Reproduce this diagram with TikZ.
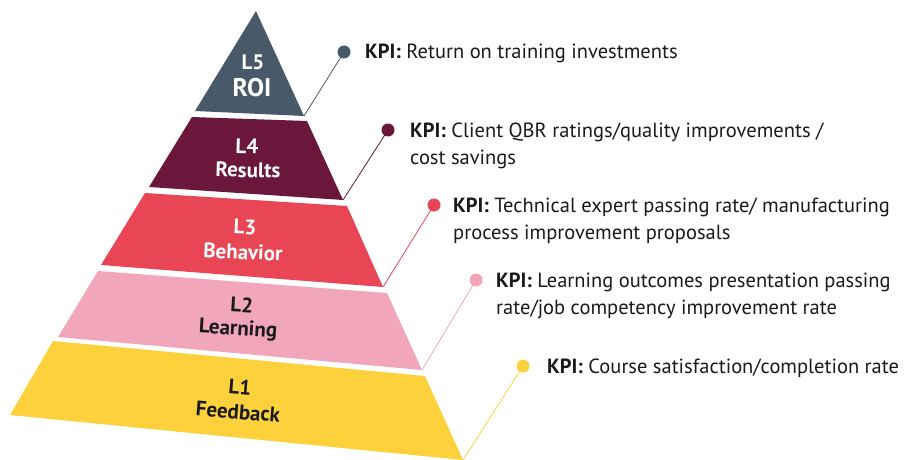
\documentclass[tikz,border=0pt]{standalone}
\usepackage{fontspec}
\setmainfont{PT Sans}
\definecolor{cL5}{HTML}{485969}
\definecolor{cL4}{HTML}{6A173B}
\definecolor{cL3}{HTML}{E84654}
\definecolor{cL2}{HTML}{F2A6BB}
\definecolor{cL1}{HTML}{FDD13B}
\definecolor{ink}{HTML}{1A1A1A}
\begin{document}
\begin{tikzpicture}[x=1pt,y=-1pt,
  lvl/.style={font=\fontsize{21}{23}\selectfont\bfseries, inner sep=0pt},
  big/.style={font=\fontsize{25.5}{27}\selectfont\bfseries, inner sep=0pt},
  dot/.style={circle, fill=#1, draw=none, minimum size=13pt, inner sep=0pt},
  conn/.style={draw=#1, line width=0.8pt},
  kpi/.style={anchor=base west, inner sep=0pt, text=ink, font=\fontsize{20.5}{27}\selectfont}
]
\useasboundingbox (0,0) rectangle (904,460);
% corners
\coordinate (c5) at (304,116);
\coordinate (c4) at (343,200);
\coordinate (c3) at (383,287);
\coordinate (c2) at (422,370);
\coordinate (c1) at (463,460);
% bands
\fill[cL5] (256,11) -- (c5) -- (195,111) -- cycle;
\fill[cL4] (192,117) -- (307,121) -- (c4) -- (149,187) -- cycle;
\fill[cL3] (145,193) -- (347,206) -- (c3) -- (101,265) -- cycle;
\fill[cL2] (98,271) -- (387,293) -- (c2) -- (58,337) -- cycle;
\fill[cL1] (53,341) -- (425,376) -- (c1) -- (10,415) -- cycle;
% labels
\node[lvl, text=white] (t5a) at (253,62) {L5};
\node[big, text=white] (t5b) at (252,88) {ROI};
\node[lvl, text=white, rotate=-1.5] (t4a) at (247,146) {L4};
\node[lvl, text=white, rotate=-1.5] (t4b) at (248,170) {Results};
\node[lvl, text=white, rotate=-2.5] (t3a) at (245,227) {L3};
\node[lvl, text=white, rotate=-2.5] (t3b) at (243,252) {Behavior};
\node[lvl, text=ink, rotate=-3.5] (t2a) at (242,305) {L2};
\node[lvl, text=ink, rotate=-3.5] (t2b) at (238,330) {Learning};
\node[lvl, text=ink, rotate=-4.5] (t1a) at (240,387) {L1};
\node[lvl, text=ink, rotate=-4.5] (t1b) at (238,412) {Feedback};
% dots
\node[dot=cL5] (d5) at (344,52) {};
\node[dot=cL4] (d4) at (388,130) {};
\node[dot=cL3] (d3) at (434,205) {};
\node[dot=cL2] (d2) at (476,280) {};
\node[dot=cL1] (d1) at (523,366) {};
% connectors
\draw[conn=cL5] (c5) -- (d5.center);
\draw[conn=cL4] (c4) -- (d4.center);
\draw[conn=cL3] (c3) -- (d3.center);
\draw[conn=cL2] (c2) -- (d2.center);
\draw[conn=cL1] (c1) -- (d1.center);
% KPI texts
\node[kpi] (k5) at (365,59) {\textbf{KPI:} Return on training investments};
\node[kpi] (k4) at (410,137) {\begin{tabular}[t]{@{}l@{}}\textbf{KPI:} Client QBR ratings/quality improvements /\\cost savings\end{tabular}};
\node[kpi] (k3) at (453,212) {\begin{tabular}[t]{@{}l@{}}\textbf{KPI:} Technical expert passing rate/ manufacturing\\process improvement proposals\end{tabular}};
\node[kpi] (k2) at (496,287) {\begin{tabular}[t]{@{}l@{}}\textbf{KPI:} Learning outcomes presentation passing\\rate/job competency improvement rate\end{tabular}};
\node[kpi] (k1) at (547,373) {\textbf{KPI:} Course satisfaction/completion rate};
\end{tikzpicture}
\end{document}
